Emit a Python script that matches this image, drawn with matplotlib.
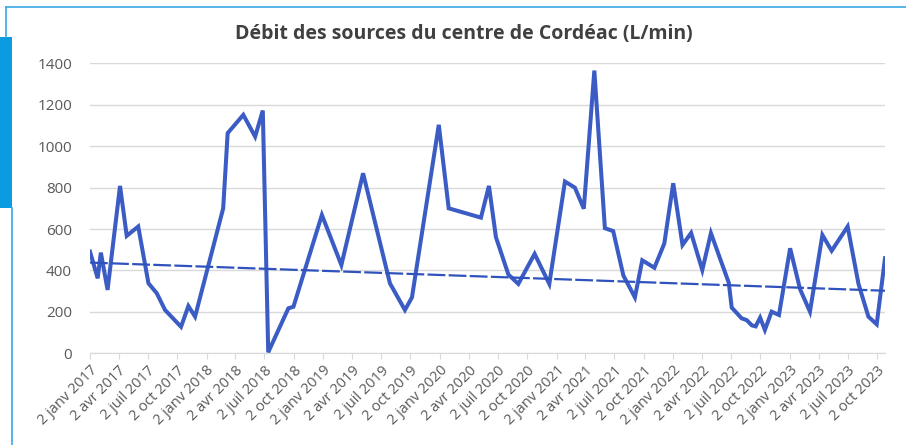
import matplotlib
matplotlib.use("Agg")
import matplotlib.pyplot as plt
from matplotlib.patches import Rectangle
from matplotlib.lines import Line2D
import pandas as pd

# débit mesuré (L/min)
dates = ["2017-01-02", "2017-01-26", "2017-02-05", "2017-02-26", "2017-04-06", "2017-04-27",
         "2017-06-02", "2017-07-04", "2017-07-30", "2017-08-25", "2017-10-14", "2017-11-06",
         "2017-11-27", "2018-02-23", "2018-03-09", "2018-04-27", "2018-06-03", "2018-06-27",
         "2018-07-14", "2018-09-15", "2018-10-01", "2018-12-29", "2019-02-28", "2019-05-07",
         "2019-07-30", "2019-09-15", "2019-10-07", "2019-12-30", "2020-01-30", "2020-05-10",
         "2020-06-04", "2020-06-26", "2020-08-04", "2020-09-04", "2020-10-25", "2020-12-10",
         "2021-01-28", "2021-02-28", "2021-03-28", "2021-04-30", "2021-06-02", "2021-06-28",
         "2021-07-30", "2021-09-04", "2021-09-27", "2021-11-04", "2021-12-05", "2022-01-02",
         "2022-01-31", "2022-02-27", "2022-04-03", "2022-04-30", "2022-06-25", "2022-07-04",
         "2022-08-04", "2022-08-20", "2022-09-05", "2022-09-17", "2022-10-01", "2022-10-16",
         "2022-11-06", "2022-11-29", "2023-01-03", "2023-02-03", "2023-03-06", "2023-04-14",
         "2023-05-13", "2023-07-02", "2023-08-05", "2023-09-05", "2023-10-01", "2023-10-27"]
debit = [491, 362, 486, 306, 808, 567,
         612, 338, 290, 209, 128, 228,
         177, 700, 1063, 1151, 1046, 1172,
         5, 217, 225, 668, 426, 869,
         338, 209, 270, 1103, 700, 655,
         808, 560, 380, 335, 480, 335,
         829, 800, 698, 1365, 604, 590,
         375, 270, 449, 413, 530, 821,
         523, 581, 402, 580, 340, 221,
         169, 160, 135, 130, 172, 113,
         201, 185, 507, 310, 201, 571,
         495, 612, 335, 177, 140, 459]

# courbe de tendance linéaire (début / fin)
trend_dates = ["2017-01-02", "2023-10-27"]
trend_vals = [438, 302]

tick_dates = pd.date_range("2017-01-01", "2023-10-01", freq="3MS") + pd.Timedelta(days=1)
mois = {1: "janv", 4: "avr", 7: "juil", 10: "oct"}
tick_labels = ["2 %s %d" % (mois[d.month], d.year) for d in tick_dates]

x = pd.to_datetime(dates)
xt = pd.to_datetime(trend_dates)

plt.rcParams['font.family'] = ['Open Sans', 'DejaVu Sans']

fig = plt.figure(figsize=(9.06, 4.45), dpi=100)
ax = fig.add_axes([90 / 906, 1 - 353.3 / 445, 795 / 906, 290 / 445])

ax.plot(x, debit, color='#3a5cc4', lw=2.9, solid_joinstyle='miter', zorder=3)
ax.plot(xt, trend_vals, color='#2f52bd', lw=1.6, ls=(0, (8, 1.5)), zorder=4)

ax.set_ylim(0, 1400)
ax.set_yticks(range(0, 1401, 200))
ax.set_xlim(x[0], x[-1])
ax.set_xticks(tick_dates)
ax.set_xticklabels(tick_labels, rotation=45, ha='right', rotation_mode='anchor')
ax.grid(axis='y', color='#d9d9d9', lw=1)
ax.set_axisbelow(True)
for s in ['top', 'right', 'left']:
    ax.spines[s].set_visible(False)
ax.spines['bottom'].set_color('#d9d9d9')
ax.tick_params(axis='y', length=0, pad=13, labelsize=11, labelcolor='#595959')
ax.tick_params(axis='x', length=4, color='#d9d9d9', pad=3, labelsize=10.5, labelcolor='#595959')

fig.text(464 / 906, 1 - 34 / 445, "Débit des sources du centre de Cordéac (L/min)",
         ha='center', va='center', fontsize=14, fontweight='bold', color='#404040')

# cadre bleu de la capture
fig.add_artist(Rectangle((0, 1 - 208 / 445), 12 / 906, 171 / 445, transform=fig.transFigure,
                         color='#0a9be0', lw=0))
fig.add_artist(Line2D([6 / 906, 1], [1 - 7 / 445, 1 - 7 / 445], transform=fig.transFigure,
                      color='#3aa8e6', lw=1.2))
fig.add_artist(Line2D([6 / 906, 6 / 906], [1 - 7 / 445, 1 - 37 / 445], transform=fig.transFigure,
                      color='#3aa8e6', lw=1.2))
fig.add_artist(Line2D([12 / 906, 12 / 906], [0, 1 - 208 / 445], transform=fig.transFigure,
                      color='#3aa8e6', lw=1.2))

fig.savefig("out.png", dpi=100)
